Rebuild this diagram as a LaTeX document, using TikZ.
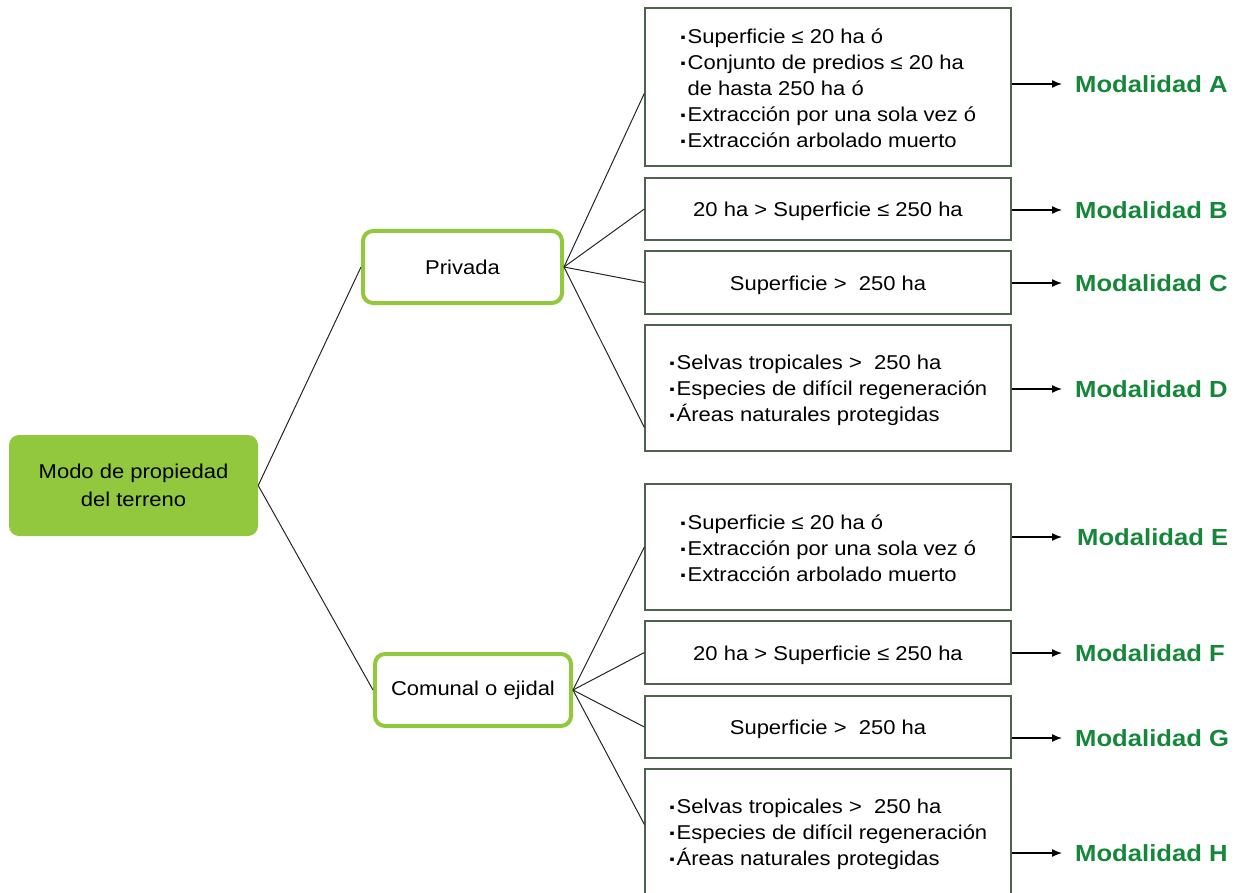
\documentclass[tikz,border=0pt]{standalone}
\usepackage{fontspec}
\setmainfont{Liberation Sans}[FakeStretch=1.1]
\usetikzlibrary{arrows.meta,calc}
\definecolor{leaf}{RGB}{146,200,62}
\definecolor{boxline}{RGB}{78,98,78}
\definecolor{modgreen}{RGB}{22,135,58}
\newcommand{\bul}{\raisebox{-1.8pt}{\fontsize{23}{26}\selectfont\textbf{·}}\kern-0.5pt}
\begin{document}
\begin{tikzpicture}[x=1pt,y=-1pt,
  body/.style={font=\fontsize{20}{26}\selectfont},
  cond/.style={draw=boxline, line width=1.3pt, minimum width=366pt, inner sep=0pt, fill=white},
  condtext/.style={body, align=left, inner sep=0pt, yshift=-2.5pt},
  rootbox/.style={fill=leaf, rounded corners=10pt, minimum width=249pt, minimum height=101pt, align=center, font=\fontsize{20}{28}\selectfont},
  kindbox/.style={draw=leaf, line width=4pt, rounded corners=10pt, fill=white, minimum height=72pt, body},
  modlabel/.style={anchor=west, inner sep=0pt, text=modgreen, font=\fontsize{23.3}{26}\selectfont\bfseries},
  link/.style={draw=black!85, line width=1pt},
  arr/.style={draw=black, line width=1.4pt, -{Latex[length=10pt,width=8pt]}, shorten >=13pt}]
\useasboundingbox (0,0) rectangle (1239,893);
% root and kinds
\node[rootbox] (root) at (133.5,485.5) {Modo de propiedad\\del terreno};
\node[kindbox, minimum width=199pt] (priv) at (462.5,267) {Privada};
\node[kindbox, minimum width=196pt] (com) at (473,690) {Comunal o ejidal};
% condition boxes
\node[cond, minimum height=158pt, label={[condtext, name=At]center:{\bul Superficie ≤ 20 ha ó\\\bul Conjunto de predios ≤ 20 ha\\\hphantom{\bul}de hasta 250 ha ó\\\bul Extracción por una sola vez ó\\\bul Extracción arbolado muerto}}] (A) at (828,87) {};
\node[cond, minimum height=62pt, label={[condtext, name=Bt]center:{20 ha > Superficie ≤ 250 ha}}] (B) at (828,209) {};
\node[cond, minimum height=63pt, label={[condtext, name=Ct]center:{Superficie >\ \ 250 ha}}] (C) at (828,282.5) {};
\node[cond, minimum height=126pt, label={[condtext, name=Dt]center:{\bul Selvas tropicales >\ \ 250 ha\\\bul Especies de difícil regeneración\\\bul Áreas naturales protegidas}}] (D) at (828,388) {};
\node[cond, minimum height=126pt, label={[condtext, name=Et]center:{\bul Superficie ≤ 20 ha ó\\\bul Extracción por una sola vez ó\\\bul Extracción arbolado muerto}}] (E) at (828,547) {};
\node[cond, minimum height=63pt, label={[condtext, name=Ft]center:{20 ha > Superficie ≤ 250 ha}}] (F) at (828,652.5) {};
\node[cond, minimum height=62pt, label={[condtext, name=Gt]center:{Superficie >\ \ 250 ha}}] (G) at (828,727) {};
\node[cond, minimum height=126pt, label={[condtext, name=Ht]center:{\bul Selvas tropicales >\ \ 250 ha\\\bul Especies de difícil regeneración\\\bul Áreas naturales protegidas}}] (H) at (828,832) {};
% labels
\node[modlabel] (mA) at (1075,84) {Modalidad A};
\node[modlabel] (mB) at (1075,210) {Modalidad B};
\node[modlabel] (mC) at (1075,283) {Modalidad C};
\node[modlabel] (mD) at (1075,389) {Modalidad D};
\node[modlabel] (mE) at (1077,537) {Modalidad E};
\node[modlabel] (mF) at (1075,653) {Modalidad F};
\node[modlabel] (mG) at (1075,738) {Modalidad G};
\node[modlabel] (mH) at (1075,853) {Modalidad H};
% connectors
\draw[link] (root.east) -- (priv.west);
\draw[link] (root.east) -- (com.west);
\draw[link] (priv.east) -- ($(A.north west)!0.54!(A.south west)$);
\draw[link] (priv.east) -- (B.west);
\draw[link] (priv.east) -- (C.west);
\draw[link] (priv.east) -- ($(D.north west)!0.81!(D.south west)$);
\draw[link] (com.east) -- ($(E.north west)!0.5!(E.south west)$);
\draw[link] (com.east) -- (F.west);
\draw[link] (com.east) -- (G.west);
\draw[link] (com.east) -- ($(H.north west)!0.44!(H.south west)$);
% arrows
\draw[arr] (A.east |- mA.west) -- (mA.west);
\draw[arr] (B.east |- mB.west) -- (mB.west);
\draw[arr] (C.east |- mC.west) -- (mC.west);
\draw[arr] (D.east |- mD.west) -- (mD.west);
\draw[arr] (E.east |- mE.west) -- ([xshift=-2pt]mE.west);
\draw[arr] (F.east |- mF.west) -- (mF.west);
\draw[arr] (G.east |- mG.west) -- (mG.west);
\draw[arr] (H.east |- mH.west) -- (mH.west);
\end{tikzpicture}
\end{document}
